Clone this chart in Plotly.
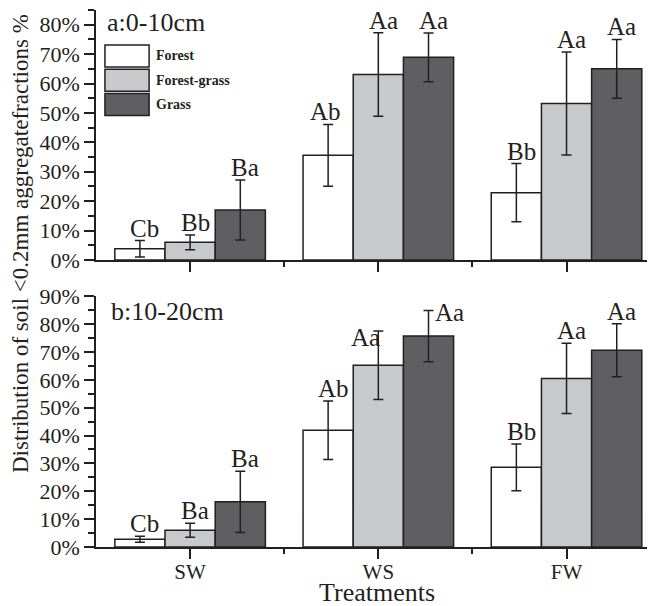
import plotly.graph_objects as go

categories = ["SW", "WS", "FW"]
series_names = ["Forest", "Forest-grass", "Grass"]
series_colors = ["#ffffff", "#c8c9cb", "#5f5f61"]

# Panel a: 0-10cm
a_forest = [3.8, 35.6, 22.9]
a_forest_err = [2.8, 10.5, 9.9]
a_fg = [6.0, 63.1, 53.2]
a_fg_err = [2.5, 14.2, 17.5]
a_grass = [17.0, 68.9, 65.0]
a_grass_err = [10.2, 8.3, 10.0]
a_forest_lbl = ["Cb", "Ab", "Bb"]
a_fg_lbl = ["Bb", "Aa", "Aa"]
a_grass_lbl = ["Ba", "Aa", "Aa"]

# Panel b: 10-20cm
b_forest = [2.8, 41.9, 28.6]
b_forest_err = [1.1, 10.5, 8.4]
b_fg = [6.0, 65.2, 60.5]
b_fg_err = [2.5, 12.3, 12.6]
b_grass = [16.2, 75.7, 70.6]
b_grass_err = [11.0, 9.2, 9.5]
b_forest_lbl = ["Cb", "Ab", "Bb"]
b_fg_lbl = ["Ba", "Aa", "Aa"]
b_grass_lbl = ["Ba", "Aa", "Aa"]

y_ticks_a = [0, 10, 20, 30, 40, 50, 60, 70, 80]
y_ticks_b = [0, 10, 20, 30, 40, 50, 60, 70, 80, 90]

FONT = "Liberation Serif"
INK = "#231f20"
BARGAP = 0.2
bw = (1 - BARGAP) / 3

fig = go.Figure()
xpos = list(range(len(categories)))

panels = [
    ("x", "y", [a_forest, a_fg, a_grass], [a_forest_err, a_fg_err, a_grass_err],
     [a_forest_lbl, a_fg_lbl, a_grass_lbl]),
    ("x2", "y2", [b_forest, b_fg, b_grass], [b_forest_err, b_fg_err, b_grass_err],
     [b_forest_lbl, b_fg_lbl, b_grass_lbl]),
]

# label shift tweaks (pixels) per panel/series/category
label_xshift = {("y2", 1, 1): -13, ("y2", 2, 1): 21, ("y", 0, 1): -3}
label_yshift = {("y2", 1, 1): -22, ("y2", 2, 1): -18}

annotations = []
for pi, (xa, ya, vals, errs, lbls) in enumerate(panels):
    for j in range(3):
        fig.add_trace(go.Bar(
            x=xpos, y=vals[j], name=series_names[j], xaxis=xa, yaxis=ya,
            marker=dict(color=series_colors[j], line=dict(color=INK, width=1.5)),
            error_y=dict(type="data", array=errs[j], color=INK, thickness=1.5, width=5),
            showlegend=False, offsetgroup=str(j),
        ))
        for i in range(len(categories)):
            key = (ya, j, i)
            annotations.append(dict(
                x=i + (j - 1) * bw, y=vals[j][i] + errs[j][i], xref=xa, yref=ya,
                text=lbls[j][i], showarrow=False, xanchor="center", yanchor="bottom",
                xshift=label_xshift.get(key, 5), yshift=label_yshift.get(key, -3),
                font=dict(family=FONT, size=25, color=INK),
            ))

# Panel titles
annotations.append(dict(x=0.016, y=0.95, xref="x domain", yref="y domain", text="a:0-10cm",
                        showarrow=False, xanchor="left", yanchor="middle",
                        font=dict(family=FONT, size=26, color=INK)))
annotations.append(dict(x=0.024, y=0.94, xref="x2 domain", yref="y2 domain", text="b:10-20cm",
                        showarrow=False, xanchor="left", yanchor="middle",
                        font=dict(family=FONT, size=26, color=INK)))

# Axis titles
annotations.append(dict(x=-0.136, y=0.566, xref="paper", yref="paper",
                        text="Distribution of soil <0.2mm aggregatefractions %",
                        textangle=-90, showarrow=False, xanchor="center", yanchor="middle",
                        font=dict(family=FONT, size=23, color=INK)))
annotations.append(dict(x=0.503, y=-0.084, xref="paper", yref="paper", text="Treatments",
                        showarrow=False, xanchor="center", yanchor="middle",
                        font=dict(family=FONT, size=26, color=INK)))

# Custom legend (large swatches) in panel a
shapes = []
row_h = 22 / 250
step = 24.3 / 250
top0 = 0.86
for j, name in enumerate(series_names):
    y1 = top0 - j * step
    shapes.append(dict(type="rect", xref="x domain", yref="y domain",
                       x0=0.016, x1=0.095, y0=y1 - row_h, y1=y1,
                       fillcolor=series_colors[j], line=dict(color=INK, width=1.5)))
    annotations.append(dict(x=0.104, y=y1 - row_h / 2, xref="x domain", yref="y domain",
                            text="<b>" + name + "</b>", showarrow=False,
                            xanchor="left", yanchor="middle",
                            font=dict(family=FONT, size=14, color=INK)))

xcommon = dict(range=[-0.5, 2.47], tickvals=xpos, ticks="outside", ticklen=10, tickwidth=1.5,
               tickcolor=INK, showline=True, linecolor=INK, linewidth=1.5, showgrid=False,
               zeroline=False, automargin=False,
               minor=dict(tickmode="array", tickvals=[0.5, 1.5], ticks="outside", ticklen=5,
                          tickwidth=1.5, tickcolor=INK, showgrid=False))
ycommon = dict(ticks="outside", ticklen=10, tickwidth=1.5, tickcolor=INK, showline=True,
               linecolor=INK, linewidth=1.5, showgrid=False, zeroline=False, automargin=False,
               tickfont=dict(family=FONT, size=22, color=INK),
               minor=dict(dtick=5, tick0=0, ticks="outside", ticklen=6, tickwidth=1.5,
                          tickcolor=INK, showgrid=False))

# page body has an 8px margin: shrink the figure so it fits the 655x606 window
fig.update_layout(
    width=647, height=598,
    margin=dict(l=88, r=0, t=2, b=59, pad=0),
    paper_bgcolor="white", plot_bgcolor="white",
    barmode="group", bargap=BARGAP, bargroupgap=0,
    xaxis=dict(**xcommon, anchor="y", domain=[0, 1], showticklabels=False),
    yaxis=dict(**ycommon, anchor="x", domain=[0.5345, 1], range=[0, 85],
               tickvals=y_ticks_a, ticktext=[f"{v}%" for v in y_ticks_a]),
    xaxis2=dict(**xcommon, anchor="y2", domain=[0, 1], ticktext=categories, showticklabels=True,
                ticklabelstandoff=-5,
                tickfont=dict(family=FONT, size=21, color=INK)),
    yaxis2=dict(**ycommon, anchor="x2", domain=[0, 0.467], range=[0, 90],
                tickvals=y_ticks_b, ticktext=[f"{v}%" for v in y_ticks_b]),
    annotations=annotations,
    shapes=shapes,
    showlegend=False,
)

fig.write_html("out.html")
